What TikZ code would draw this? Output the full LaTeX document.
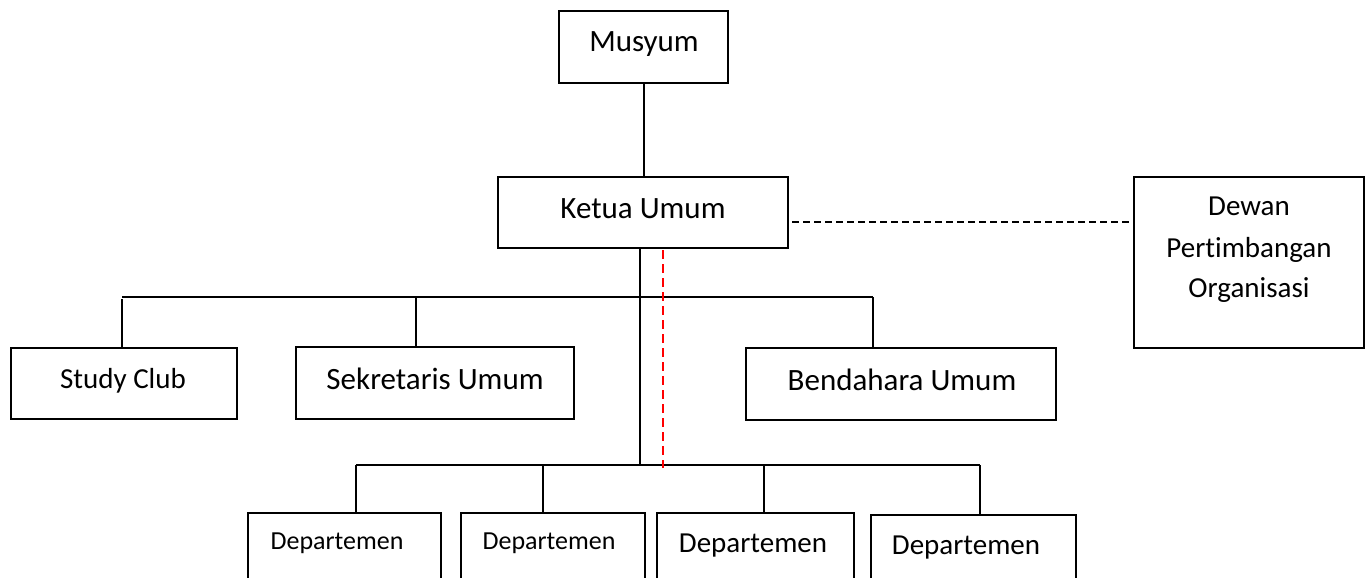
\documentclass[tikz,border=0pt]{standalone}
\usepackage{fontspec}
\setmainfont[RawFeature={-liga;-clig;-calt;-dlig}]{Carlito}
\newcommand{\orgbox}[5]{\node[box, minimum width={#4-#2}, minimum height={#5-#3}] (#1) at ({(#2+#4)/2},{(#3+#5)/2}) {};}
\begin{document}
\begin{tikzpicture}[x=1pt,y=-1pt,
  box/.style={draw=black, line width=2pt, rectangle, inner sep=0pt, outer sep=0pt},
  conn/.style={draw=black, line width=2pt},
  blackdash/.style={draw=black, line width=2pt, dash pattern=on 7pt off 4pt},
  reddash/.style={draw=red, line width=2pt, dash pattern=on 9pt off 5pt},
  lbl/.style={inner sep=0pt, anchor=base, text=black, font=\fontsize{31}{37}\selectfont},
  lblm/.style={lbl, font=\fontsize{29}{35}\selectfont},
  lbls/.style={lbl, font=\fontsize{26}{31}\selectfont}]
\clip (0,0) rectangle (1369,578);
\fill[white] (0,0) rectangle (1369,578);
% boxes
\orgbox{mus}{559}{11}{728}{83}
\orgbox{ket}{498}{177}{788}{248}
\orgbox{dew}{1134}{177}{1364}{348}
\orgbox{study}{11}{348}{237}{419}
\orgbox{sek}{296}{347}{574}{419}
\orgbox{ben}{746}{348}{1056}{420}
\orgbox{d1}{248}{513}{441}{610}
\orgbox{d2}{461}{513}{645}{610}
\orgbox{d3}{657}{513}{854}{610}
\orgbox{d4}{871}{515}{1076}{610}
% junctions
\coordinate (ub) at (640,297);
\coordinate (lb) at (640,465);
\coordinate (jSC) at (122,297);
\coordinate (jSK) at (416,297);
\coordinate (jBD) at (873,297);
\coordinate (jD1) at (356,465);
\coordinate (jD2) at (543,465);
\coordinate (jD3) at (764,465);
\coordinate (jD4) at (980,465);
\coordinate (rd1) at (663,250);
\coordinate (rd2) at (663,468);
% connectors
\draw[conn] (mus.south) -- (mus.south |- ket.north);
\draw[conn] (ket.south -| ub) -- (lb);
\draw[conn] (jSC) -- (jBD);
\draw[conn] ([yshift=-2pt]jSC) -- (jSC |- study.north);
\draw[conn] (jSK) -- (jSK |- sek.north);
\draw[conn] (jBD) -- (jBD |- ben.north);
\draw[conn] (jD1) -- (jD4);
\draw[conn] (jD1) -- (jD1 |- d1.north);
\draw[conn] (jD2) -- (jD2 |- d2.north);
\draw[conn] (jD3) -- (jD3 |- d3.north);
\draw[conn] (jD4) -- (jD4 |- d4.north);
\draw[blackdash, shorten <=4pt, shorten >=3pt] ([yshift=-9.5pt]ket.east) -- ([yshift=-9.5pt]ket.east -| dew.west);
\draw[reddash] (rd1) -- (rd2);
% labels
\node[lbl] (tMus) at (644,52) {Musyum};
\node[lbl] (tKet) at (643,218) {Ketua Umum};
\node[lblm] (tSC) at (123,388) {Study Club};
\node[lbl] (tSek) at (435,389) {Sekretaris Umum};
\node[lbl] (tBen) at (902,390) {Bendahara Umum};
\node[lblm] (tDw1) at (1249,215) {Dewan};
\node[lblm] (tDw2) at (1249,257) {Pert\kern0pt imbangan};
\node[lblm] (tDw3) at (1249,297) {Organisasi};
\node[lbls] (tD1) at (337,549) {Departemen};
\node[lbls] (tD2) at (549,549) {Departemen};
\node[lblm] (tD3) at (753,552) {Departemen};
\node[lblm] (tD4) at (966,554) {Departemen};
\end{tikzpicture}
\end{document}
